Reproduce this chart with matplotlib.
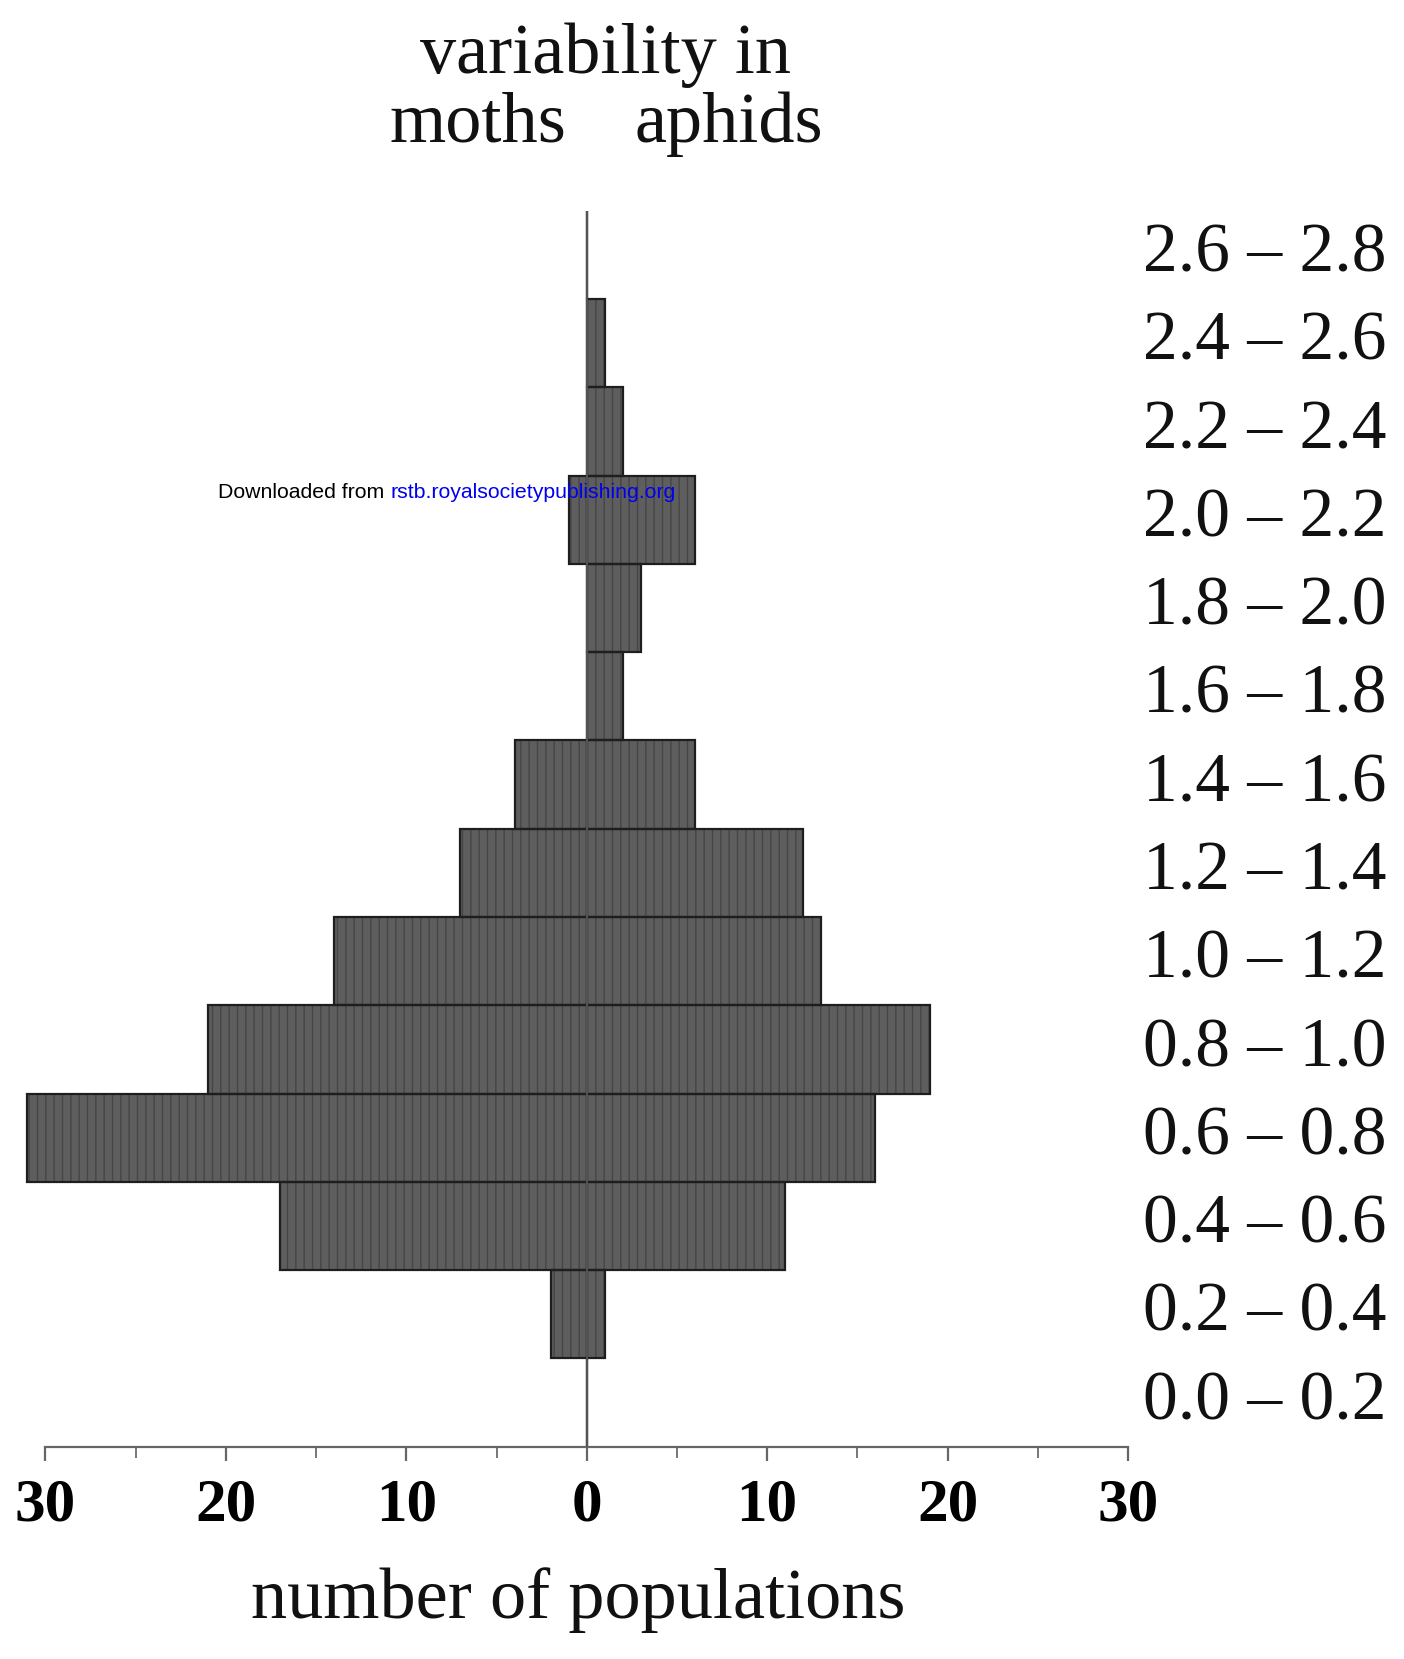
import matplotlib.pyplot as plt
from matplotlib.ticker import MultipleLocator, FixedLocator
from matplotlib.transforms import blended_transform_factory

# variability classes (lower edge of each 0.2-wide bin)
bin_lo = [0.0, 0.2, 0.4, 0.6, 0.8, 1.0, 1.2, 1.4, 1.6, 1.8, 2.0, 2.2, 2.4, 2.6]
bin_labels = ['0.0 – 0.2', '0.2 – 0.4', '0.4 – 0.6', '0.6 – 0.8', '0.8 – 1.0',
              '1.0 – 1.2', '1.2 – 1.4', '1.4 – 1.6', '1.6 – 1.8', '1.8 – 2.0',
              '2.0 – 2.2', '2.2 – 2.4', '2.4 – 2.6', '2.6 – 2.8']
bin_width = 0.2

# number of populations per class
moths = [0, 2, 17, 31, 21, 14, 7, 4, 0, 0, 1, 0, 0, 0]
aphids = [0, 1, 11, 16, 19, 13, 12, 6, 2, 3, 6, 2, 1, 0]

xtick_vals = [-30, -20, -10, 0, 10, 20, 30]
xtick_text = ['30', '20', '10', '0', '10', '20', '30']

serif = ['Liberation Serif', 'DejaVu Serif']

fig = plt.figure(figsize=(14.04, 16.59), dpi=100)
ax = fig.add_axes([0.0324, 0.128, 0.771, 0.745])

neg_moths = [-m for m in moths]
fill = '#5e5e5e'
for vals in (neg_moths, aphids):
    ax.barh(bin_lo, vals, height=bin_width, align='edge', color=fill,
            edgecolor='#454545', hatch='||', linewidth=0, clip_on=False)
    ax.barh(bin_lo, vals, height=bin_width, align='edge', fill=False,
            edgecolor='#1e1e1e', linewidth=1.6, clip_on=False)

# central axis line
ax.axvline(0, color='#555555', linewidth=1.4, zorder=3)

ax.set_xlim(-30, 30)
ax.set_ylim(0, 2.8)
for s in ['left', 'right', 'top']:
    ax.spines[s].set_visible(False)
ax.spines['bottom'].set_color('#666666')
ax.spines['bottom'].set_linewidth(1.6)
ax.set_yticks([])

ax.xaxis.set_major_locator(FixedLocator(xtick_vals))
ax.set_xticklabels(xtick_text, fontfamily=serif, fontweight='bold', fontsize=44)
ax.xaxis.set_minor_locator(MultipleLocator(5))
ax.tick_params(axis='x', which='major', direction='out', length=10, width=1.6,
               color='#666666', pad=12)
ax.tick_params(axis='x', which='minor', direction='out', length=8, width=1.4,
               color='#777777')

# class labels on the right
trans = blended_transform_factory(fig.transFigure, ax.transData)
for lo, lab in zip(bin_lo, bin_labels):
    ax.text(1143 / 1404, lo + bin_width / 2, lab, transform=trans, clip_on=False,
            fontfamily=serif, fontsize=50, ha='left', va='center', color='#111111')

# headings
fig.text(606 / 1404, 1 - 55 / 1659, 'variability in', fontfamily=serif,
         fontsize=52, ha='center', va='center', color='#111111')
fig.text(478 / 1404, 1 - 124 / 1659, 'moths', fontfamily=serif,
         fontsize=52, ha='center', va='center', color='#111111')
fig.text(729 / 1404, 1 - 124 / 1659, 'aphids', fontfamily=serif,
         fontsize=52, ha='center', va='center', color='#111111')
fig.text(578 / 1404, 1 - 1600 / 1659, 'number of populations', fontfamily=serif,
         fontsize=52, ha='center', va='center', color='#111111')

# download stamp
fig.text(218 / 1404, 1 - 492 / 1659, 'Downloaded from', fontfamily='Liberation Sans',
         fontsize=15.3, ha='left', va='center', color='black', zorder=10)
fig.text(391 / 1404, 1 - 492 / 1659, 'rstb.royalsocietypublishing.org',
         fontfamily='Liberation Sans', fontsize=15.3, ha='left', va='center',
         color='#0000ee', zorder=10)

fig.savefig('out.png', dpi=100)
